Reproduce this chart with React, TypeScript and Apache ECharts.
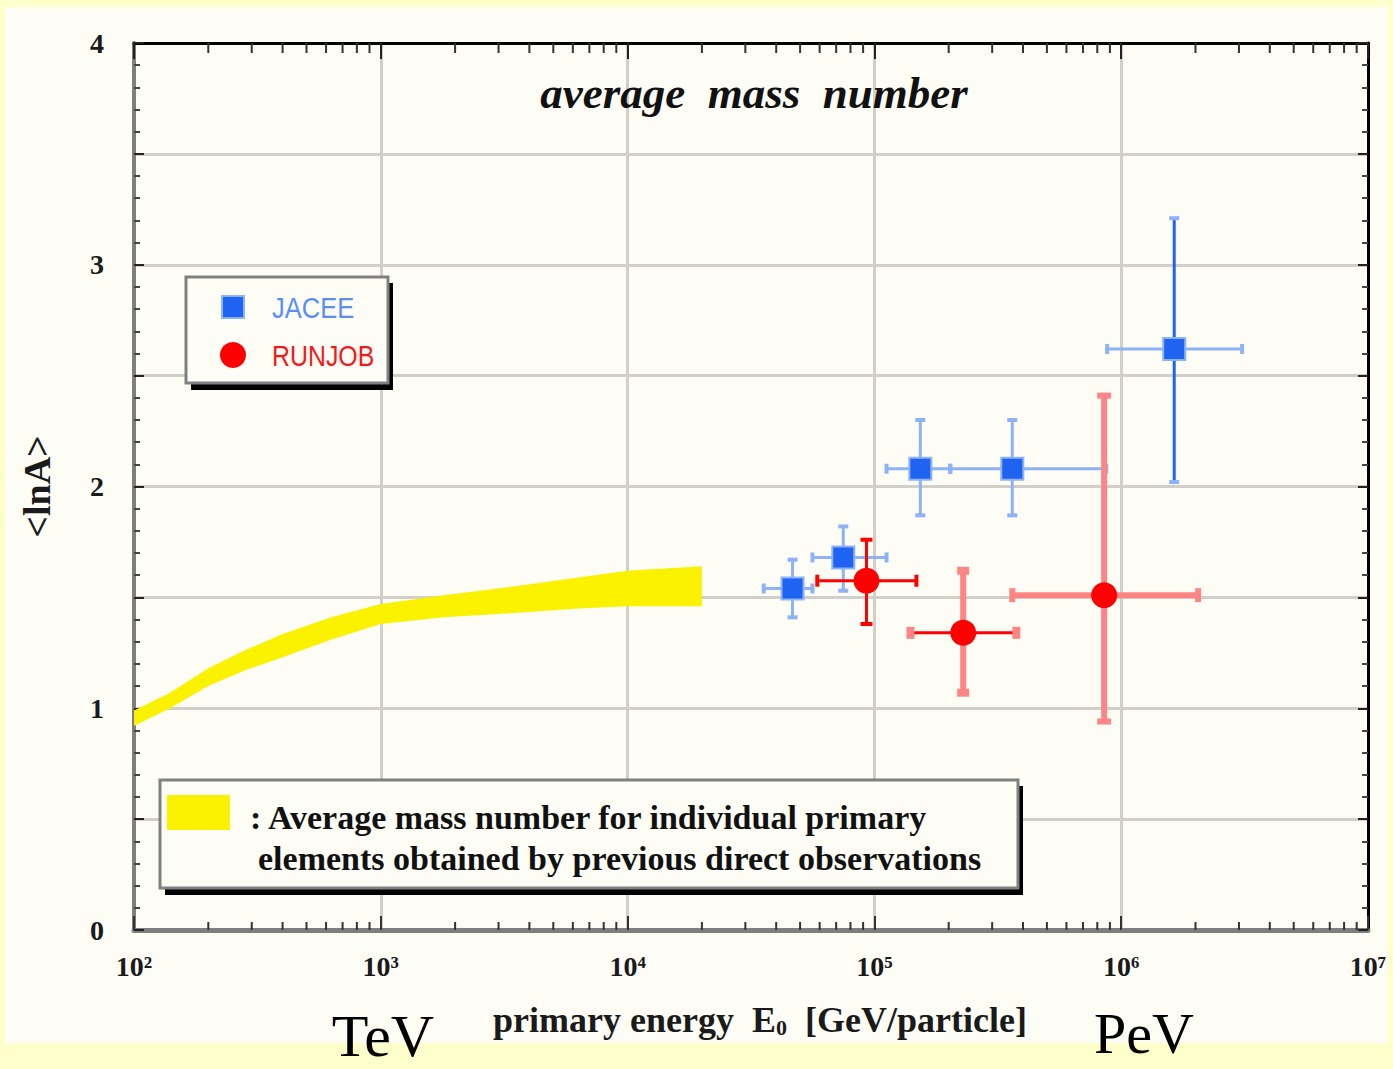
import React, { useEffect, useRef } from "react";
import * as echarts from "echarts";

// ---------- data ----------
const xMin = 1e2;
const xMax = 1e7;
const yTickLabels = ["0", "1", "2", "3", "4"];
const superDigits: Record<string, string> = { "2": "²", "3": "³", "4": "⁴", "5": "⁵", "6": "⁶", "7": "⁷" };

const jaceeE = [46600, 74800, 153500, 362000, 1640000];
const jaceeELow = [35600, 56100, 112000, 203000, 877000];
const jaceeEHigh = [56100, 112000, 203000, 870000, 3090000];
const jaceeLnA = [1.54, 1.68, 2.08, 2.08, 2.62];
const jaceeLnALow = [1.41, 1.53, 1.87, 1.87, 2.02];
const jaceeLnAHigh = [1.67, 1.82, 2.3, 2.3, 3.21];

const runjobE = [92900, 229000, 853000];
const runjobELow = [58700, 140000, 362000];
const runjobEHigh = [148000, 376000, 2050000];
const runjobLnA = [1.575, 1.34, 1.51];
const runjobLnALow = [1.38, 1.07, 0.94];
const runjobLnAHigh = [1.76, 1.62, 2.41];

const bandE = [100, 140, 200, 280, 400, 630, 1000, 1800, 3500, 6300, 10000, 20000];
const bandLow = [0.92, 1.0, 1.1, 1.17, 1.23, 1.31, 1.38, 1.41, 1.43, 1.45, 1.46, 1.46];
const bandHigh = [0.99, 1.07, 1.18, 1.26, 1.335, 1.41, 1.47, 1.51, 1.55, 1.59, 1.62, 1.64];

// ---------- styles ----------
const SERIF = '"Liberation Serif", "DejaVu Serif", serif';
const SANS = '"Liberation Sans", Arial, sans-serif';
const BLUE = "#1F63F2";
const BLUE_LIGHT = "#8DB2F6";
const RED = "#FF0000";
const SALMON = "#FF8484";
const GRIDC = "#D2CFCA";

type BarStyle = { hColor: string; hWidth: number; vColor: string; vWidth: number; capH: number; capW: number; vCapColor: string; hCapColor: string };
const jaceeBarStyles: BarStyle[] = [
  { hColor: BLUE_LIGHT, hWidth: 3, vColor: BLUE_LIGHT, vWidth: 3, capH: 5, capW: 4, vCapColor: BLUE_LIGHT, hCapColor: BLUE_LIGHT },
  { hColor: BLUE_LIGHT, hWidth: 3, vColor: BLUE_LIGHT, vWidth: 3, capH: 5, capW: 4, vCapColor: BLUE_LIGHT, hCapColor: BLUE_LIGHT },
  { hColor: BLUE_LIGHT, hWidth: 3, vColor: BLUE_LIGHT, vWidth: 3, capH: 5, capW: 4, vCapColor: BLUE_LIGHT, hCapColor: BLUE_LIGHT },
  { hColor: BLUE_LIGHT, hWidth: 3, vColor: BLUE_LIGHT, vWidth: 3, capH: 5, capW: 4, vCapColor: BLUE_LIGHT, hCapColor: BLUE_LIGHT },
  { hColor: BLUE_LIGHT, hWidth: 3, vColor: BLUE, vWidth: 3, capH: 5, capW: 4, vCapColor: BLUE_LIGHT, hCapColor: BLUE_LIGHT },
];
const runjobBarStyles: BarStyle[] = [
  { hColor: RED, hWidth: 3, vColor: RED, vWidth: 3, capH: 6, capW: 4, vCapColor: RED, hCapColor: RED },
  { hColor: RED, hWidth: 3, vColor: SALMON, vWidth: 6, capH: 6, capW: 8, vCapColor: SALMON, hCapColor: SALMON },
  { hColor: SALMON, hWidth: 6, vColor: SALMON, vWidth: 6, capH: 7, capW: 6, vCapColor: SALMON, hCapColor: SALMON },
];

const xMinorTicks: number[] = [];
for (let e = 2; e < 7; e++) for (let m = 2; m <= 9; m++) xMinorTicks.push(m * Math.pow(10, e));

function errorBarRenderer(styles: BarStyle[]) {
  return (params: any, api: any) => {
    const st = styles[params.dataIndex];
    const c = api.coord([api.value(0), api.value(1)]);
    const xl = api.coord([api.value(2), api.value(1)]);
    const xh = api.coord([api.value(3), api.value(1)]);
    const yl = api.coord([api.value(0), api.value(4)]);
    const yh = api.coord([api.value(0), api.value(5)]);
    const children: any[] = [
      { type: "line", shape: { x1: xl[0], y1: c[1], x2: xh[0], y2: c[1] }, style: { stroke: st.hColor, lineWidth: st.hWidth } },
      { type: "line", shape: { x1: c[0], y1: yl[1], x2: c[0], y2: yh[1] }, style: { stroke: st.vColor, lineWidth: st.vWidth } },
      { type: "line", shape: { x1: xl[0], y1: c[1] - st.capH, x2: xl[0], y2: c[1] + st.capH }, style: { stroke: st.hCapColor, lineWidth: st.capW } },
      { type: "line", shape: { x1: xh[0], y1: c[1] - st.capH, x2: xh[0], y2: c[1] + st.capH }, style: { stroke: st.hCapColor, lineWidth: st.capW } },
      { type: "line", shape: { x1: c[0] - st.capH, y1: yl[1], x2: c[0] + st.capH, y2: yl[1] }, style: { stroke: st.vCapColor, lineWidth: st.capW } },
      { type: "line", shape: { x1: c[0] - st.capH, y1: yh[1], x2: c[0] + st.capH, y2: yh[1] }, style: { stroke: st.vCapColor, lineWidth: st.capW } },
    ];
    return { type: "group", children };
  };
}

export default function App() {
  const ref = useRef<HTMLDivElement>(null);
  useEffect(() => {
    if (!ref.current) return;
    const chart = echarts.init(ref.current, null, { renderer: "svg" });

    const jaceeBars = jaceeE.map((e, i) => [e, jaceeLnA[i], jaceeELow[i], jaceeEHigh[i], jaceeLnALow[i], jaceeLnAHigh[i]]);
    const runjobBars = runjobE.map((e, i) => [e, runjobLnA[i], runjobELow[i], runjobEHigh[i], runjobLnALow[i], runjobLnAHigh[i]]);

    const option: any = {
      animation: false,
      backgroundColor: "#FFFFCC",
      grid: { left: 134, right: 25, top: 43, bottom: 139, containLabel: false },
      xAxis: [
        {
          type: "log",
          logBase: 10,
          min: xMin,
          max: xMax,
          position: "bottom",
          name: "primary energy  E{sub|0}  [GeV/particle]",
          nameLocation: "middle",
          nameGap: 72,
          nameTextStyle: {
            fontFamily: SERIF,
            fontWeight: "bold",
            fontSize: 36,
            color: "#1a1a1a",
            padding: [0, 0, 0, 18],
            rich: { sub: { fontFamily: SERIF, fontWeight: "bold", fontSize: 22, color: "#1a1a1a", padding: [14, 0, 0, 0] } },
          },
          axisLine: { show: true, onZero: false, lineStyle: { color: "#7F7F7F", width: 5 } },
          axisTick: { show: true, inside: true, length: 14, lineStyle: { color: "#333", width: 2 } },
          axisLabel: {
            show: true,
            margin: 22,
            fontFamily: SERIF,
            fontWeight: "bold",
            fontSize: 28,
            color: "#1a1a1a",
            formatter: (v: number) => "10" + (superDigits[String(Math.round(Math.log10(v)))] || ""),
          },
          splitLine: { show: true, lineStyle: { color: GRIDC, width: 3 } },
        },
        {
          type: "log",
          logBase: 10,
          min: xMin,
          max: xMax,
          position: "top",
          axisLine: { show: true, onZero: false, lineStyle: { color: "#000", width: 3 } },
          axisTick: { show: true, inside: true, length: 16, lineStyle: { color: "#222", width: 2 } },
          axisLabel: { show: false },
          splitLine: { show: false },
        },
      ],
      yAxis: [
        {
          type: "value",
          min: 0,
          max: 4,
          interval: 0.5,
          position: "left",
          name: "<lnA>",
          nameLocation: "middle",
          nameRotate: 90,
          nameGap: 78,
          nameTextStyle: { fontFamily: SERIF, fontWeight: "bold", fontSize: 38, color: "#1a1a1a" },
          axisLine: { show: true, onZero: false, lineStyle: { color: "#7F7F7F", width: 4 } },
          axisTick: { show: true, inside: true, length: 10, lineStyle: { color: "#222", width: 2 } },
          minorTick: { show: true, splitNumber: 5, length: 6, lineStyle: { color: "#444", width: 2 } },
          axisLabel: {
            show: true,
            margin: 30,
            fontFamily: SERIF,
            fontWeight: "bold",
            fontSize: 28,
            color: "#1a1a1a",
            formatter: (v: number) => (Number.isInteger(v) ? yTickLabels[v] : ""),
          },
          splitLine: { show: true, lineStyle: { color: GRIDC, width: 3 } },
        },
        {
          type: "value",
          min: 0,
          max: 4,
          interval: 0.5,
          position: "right",
          axisLine: { show: true, onZero: false, lineStyle: { color: "#000", width: 3 } },
          axisTick: { show: true, inside: true, length: 10, lineStyle: { color: "#222", width: 2 } },
          minorTick: { show: true, splitNumber: 5, length: 6, lineStyle: { color: "#444", width: 2 } },
          axisLabel: { show: false },
          splitLine: { show: false },
        },
      ],
      graphic: [
        { type: "rect", z: -100, shape: { x: 5, y: 7, width: 1383, height: 1036 }, style: { fill: "#FDFDF6" }, silent: true },
        {
          type: "text",
          z: 100,
          style: { text: "average  mass  number", x: 754, y: 93, fontFamily: SERIF, fontStyle: "italic", fontWeight: "bold", fontSize: 45, fill: "#111", align: "center", verticalAlign: "middle", textAlign: "center", textVerticalAlign: "middle" },
        },
        // legend 1
        { type: "rect", z: 100, shape: { x: 191, y: 283, width: 202, height: 107 }, style: { fill: "#000" } },
        { type: "rect", z: 101, shape: { x: 186, y: 277, width: 202, height: 106 }, style: { fill: "#FDFDF6", stroke: "#808080", lineWidth: 3 } },
        { type: "rect", z: 102, shape: { x: 222, y: 296, width: 22, height: 22 }, style: { fill: BLUE, stroke: BLUE_LIGHT, lineWidth: 2 } },
        { type: "circle", z: 102, shape: { cx: 233, cy: 355, r: 13 }, style: { fill: RED } },
        { type: "text", z: 102, x: 272, y: 308, scaleX: 0.85, style: { text: "JACEE", x: 0, y: 0, fontFamily: SANS, fontSize: 30, fill: "#5B8EF2", align: "left", verticalAlign: "middle", textAlign: "left", textVerticalAlign: "middle" } },
        { type: "text", z: 102, x: 272, y: 356, scaleX: 0.83, style: { text: "RUNJOB", x: 0, y: 0, fontFamily: SANS, fontSize: 30, fill: "#F21A1A", align: "left", verticalAlign: "middle", textAlign: "left", textVerticalAlign: "middle" } },
        // legend 2
        { type: "rect", z: 100, shape: { x: 165, y: 786, width: 858, height: 109 }, style: { fill: "#000" } },
        { type: "rect", z: 101, shape: { x: 160, y: 780, width: 858, height: 108 }, style: { fill: "#FDFDF6", stroke: "#808080", lineWidth: 3 } },
        { type: "rect", z: 102, shape: { x: 167, y: 795, width: 63, height: 35 }, style: { fill: "#FAF200" } },
        { type: "text", z: 102, x: 250, y: 817, style: { text: ": Average mass number for individual primary", x: 0, y: 0, fontFamily: SERIF, fontWeight: "bold", fontSize: 34, fill: "#111", align: "left", verticalAlign: "middle", textAlign: "left", textVerticalAlign: "middle" } },
        { type: "text", z: 102, x: 258, y: 858, style: { text: "elements obtained by previous direct observations", x: 0, y: 0, fontFamily: SERIF, fontWeight: "bold", fontSize: 34, fill: "#111", align: "left", verticalAlign: "middle", textAlign: "left", textVerticalAlign: "middle" } },
        // TeV / PeV
        { type: "text", z: 100, style: { text: "TeV", x: 383, y: 1036, fontFamily: SERIF, fontSize: 60, fill: "#000", align: "center", verticalAlign: "middle", textAlign: "center", textVerticalAlign: "middle" } },
        { type: "text", z: 100, style: { text: "PeV", x: 1144, y: 1033, fontFamily: SERIF, fontSize: 58, fill: "#000", align: "center", verticalAlign: "middle", textAlign: "center", textVerticalAlign: "middle" } },
      ],
      series: [
        {
          type: "custom",
          name: "band",
          xAxisIndex: 0,
          yAxisIndex: 0,
          z: 3,
          data: [[bandE[0], bandLow[0]]],
          encode: { x: 0, y: 1 },
          renderItem: (_p: any, api: any) => {
            const pts: number[][] = [];
            for (let i = 0; i < bandE.length; i++) pts.push(api.coord([bandE[i], bandHigh[i]]));
            for (let i = bandE.length - 1; i >= 0; i--) pts.push(api.coord([bandE[i], bandLow[i]]));
            return { type: "polygon", shape: { points: pts }, style: { fill: "#FAF200" } };
          },
        },
        {
          type: "custom",
          name: "xminor",
          xAxisIndex: 0,
          yAxisIndex: 0,
          z: 5,
          silent: true,
          clip: false,
          data: xMinorTicks.map((v) => [v, 0]),
          encode: { x: 0, y: 1 },
          renderItem: (_p: any, api: any) => {
            const b = api.coord([api.value(0), 0]);
            const t = api.coord([api.value(0), 4]);
            return {
              type: "group",
              children: [
                { type: "line", shape: { x1: b[0], y1: b[1], x2: b[0], y2: b[1] - 8 }, style: { stroke: "#333", lineWidth: 2 } },
                { type: "line", shape: { x1: t[0], y1: t[1], x2: t[0], y2: t[1] + 10 }, style: { stroke: "#333", lineWidth: 2 } },
              ],
            };
          },
        },
        {
          type: "custom",
          name: "JACEE err",
          z: 4,
          data: jaceeBars,
          encode: { x: 0, y: 1 },
          renderItem: errorBarRenderer(jaceeBarStyles),
        },
        {
          type: "custom",
          name: "RUNJOB err",
          z: 4,
          data: runjobBars,
          encode: { x: 0, y: 1 },
          renderItem: errorBarRenderer(runjobBarStyles),
        },
        {
          type: "scatter",
          name: "JACEE",
          z: 6,
          symbol: "rect",
          symbolSize: 22,
          itemStyle: { color: BLUE, borderColor: BLUE_LIGHT, borderWidth: 2, opacity: 1 },
          data: jaceeE.map((e, i) => [e, jaceeLnA[i]]),
        },
        {
          type: "scatter",
          name: "RUNJOB",
          z: 6,
          symbol: "circle",
          symbolSize: 26,
          itemStyle: { color: RED, opacity: 1 },
          data: runjobE.map((e, i) => [e, runjobLnA[i]]),
        },
      ],
    };
    chart.setOption(option);
    return () => chart.dispose();
  }, []);
  return <div ref={ref} style={{ position: "fixed", left: 0, top: 0, width: 1393, height: 1069 }} />;
}
